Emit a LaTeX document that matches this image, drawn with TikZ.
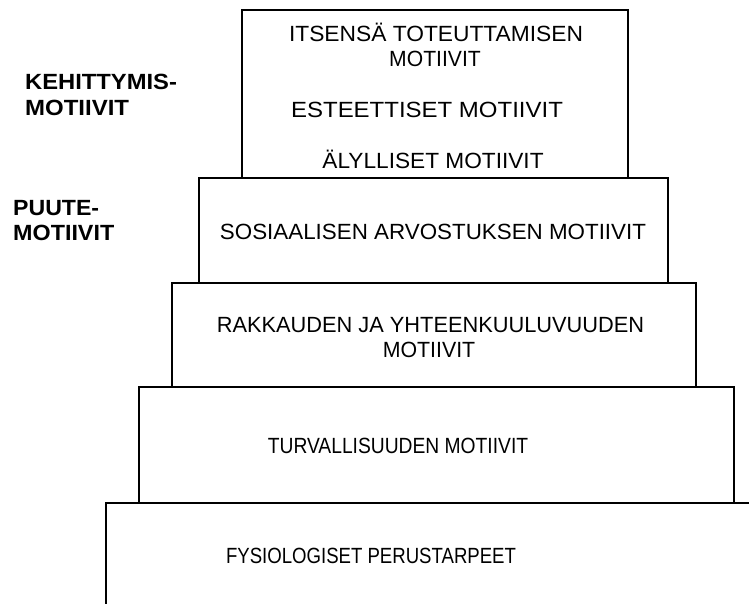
\documentclass[tikz,border=0pt]{standalone}
\usepackage{graphicx}
\usepackage{fontspec}
\setmainfont{Liberation Sans}
\begin{document}
\begin{tikzpicture}[x=1pt,y=-1pt,
  layer/.style={draw, line width=2.8pt, rectangle, inner sep=0pt},
  lbl/.style={anchor=base, inner sep=0pt, font=\fontsize{22}{25}\selectfont},
  side/.style={anchor=base west, inner sep=0pt, font=\fontsize{22}{25}\selectfont\bfseries}]
\useasboundingbox (0,0) rectangle (749,603);
\clip (0,0) rectangle (749,603);

% base layer runs off the page to the right and bottom
\coordinate (b1) at (106,620);
\coordinate (b2) at (106,503);
\coordinate (b3) at (770,503);
\draw[line width=2.8pt] (b1) -- (b2) -- (b3);

% stacked layers of the pyramid
\node[layer, minimum width=595, minimum height=116] (l4) at (436.5,445) {};
\node[layer, minimum width=524, minimum height=104] (l3) at (434,335) {};
\node[layer, minimum width=469, minimum height=105] (l2) at (433.5,230.5) {};
\node[layer, minimum width=386, minimum height=168] (l1) at (435,94) {};

% texts of the top layer
\node[lbl] (t1a) at (436,41) {\scalebox{1.035}[1]{ITSENSÄ TOTEUTTAMISEN}};
\node[lbl] (t1b) at (435,66) {\scalebox{0.96}[1]{MOTIIVIT}};
\node[lbl] (t1c) at (427,117) {\scalebox{1.09}[1]{ESTEETTISET MOTIIVIT}};
\node[lbl] (t1d) at (433,168) {\scalebox{1.03}[1]{ÄLYLLISET MOTIIVIT}};

\node[lbl] (t2) at (433,239) {\scalebox{1.017}[1]{SOSIAALISEN ARVOSTUKSEN MOTIIVIT}};
\node[lbl] (t3a) at (430.5,332) {\scalebox{0.99}[1]{RAKKAUDEN JA YHTEENKUULUVUUDEN}};
\node[lbl] (t3b) at (429,357) {\scalebox{0.97}[1]{MOTIIVIT}};
\node[lbl] (t4) at (398,453) {\scalebox{0.875}[1]{TURVALLISUUDEN MOTIIVIT}};
\node[lbl] (t5) at (371,563) {\scalebox{0.845}[1]{FYSIOLOGISET PERUSTARPEET}};

% side labels
\node[side] (k1) at (25,89) {\scalebox{1.08}[1]{KEHITTYMIS-}};
\node[side] (k2) at (25,115) {\scalebox{1.09}[1]{MOTIIVIT}};
\node[side] (p1) at (13,215) {\scalebox{1.05}[1]{PUUTE-}};
\node[side] (p2) at (13,240) {\scalebox{1.06}[1]{MOTIIVIT}};
\end{tikzpicture}
\end{document}
